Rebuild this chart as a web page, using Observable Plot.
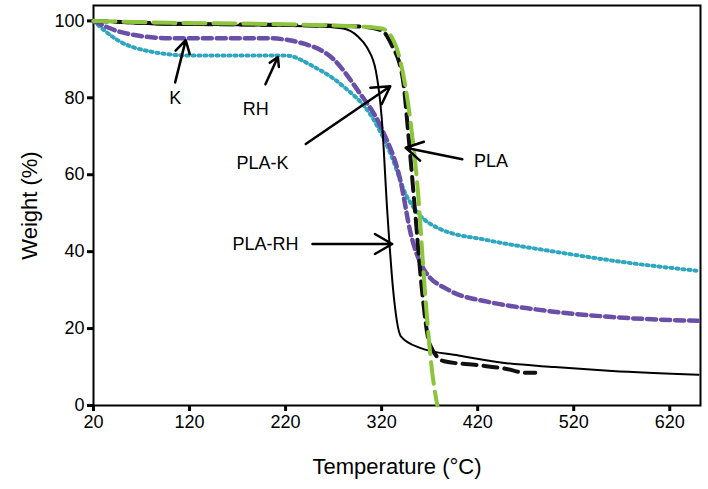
<!DOCTYPE html>
<html><head><meta charset="utf-8">
<script src="https://cdn.jsdelivr.net/npm/d3@7"></script>
<script src="https://cdn.jsdelivr.net/npm/@observablehq/plot@0.6"></script>
<style>body{margin:0;background:#fff}</style>
</head><body><div id="chart"></div>
<script>
const plaT = [20,100,200,300,320,330,340,350,358,365,372,378];
const plaW = [100,99.5,99.2,98.5,98,96,89,74,55,30,10,0];
const plakT = [20,100,200,300,320,330,342,348,355,362,370,385,420,450,470,480];
const plakW = [100,99.3,99,98.5,97.5,94,85,70,50,30,16,11.5,10.5,9.5,8.5,8.5];
const plarhT = [20,100,200,260,280,295,305,314,320,326,332,340,360,400,450,500,560,650];
const plarhW = [100,99,98.8,98.5,98,96,93,87,75,50,30,18,15,13,11,10,9,8];
const kT = [20,50,100,200,240,270,295,320,340,350,365,390,430,480,560,650];
const kW = [100,97,95.5,95.5,94,90,82,72,58,45,35,30,27,25,23,22];
const rhT = [20,45,80,120,220,250,280,310,330,345,358,380,430,500,580,650];
const rhW = [100,95,92,91,91,88,83,75,65,55,50,46,43,40,37,35];

const labels = ["K","RH","PLA-K","PLA","PLA-RH"];
const labelT = [105,189,196,434,199];
const labelW = [80,77,63,63.5,42];
const arrX1 = [105,199,241,404,248];
const arrY1 = [84,83.5,68,64,42];
const arrX2 = [116,212,329,345,331];
const arrY2 = [95,90.6,83,67,42];

const toRows = (t, w) => t.map((x, i) => ({t: x, w: w[i]}));
const lbl = labels.map((s, i) => ({s, t: labelT[i], w: labelW[i]}));
const arr = labels.map((s, i) => ({x1: arrX1[i], y1: arrY1[i], x2: arrX2[i], y2: arrY2[i]}));

const chart = Plot.plot({
  width: 708, height: 489,
  marginLeft: 93, marginRight: 8, marginTop: 5, marginBottom: 84,
  style: {fontFamily: "Liberation Sans, Arial, sans-serif", color: "#000"},
  x: {domain: [20, 652]},
  y: {domain: [0, 104]},
  marks: [
    Plot.axisX({ticks: [20,120,220,320,420,520,620], tickSize: 6, tickPadding: 4, fontSize: 18, strokeWidth: 3,
      label: "Temperature (°C)", labelAnchor: "center", labelOffset: 68, labelArrow: "none"}),
    Plot.axisY({ticks: [0,20,40,60,80,100], tickSize: 6, tickPadding: 3, fontSize: 18, strokeWidth: 3,
      label: "Weight (%)", labelAnchor: "center", labelOffset: 72, labelArrow: "none"}),
    Plot.frame({stroke: "#000", strokeWidth: 2}),
    Plot.line(toRows(rhT, rhW), {x: "t", y: "w", curve: "monotone-x", stroke: "#2fa6c0", strokeWidth: 4, strokeDasharray: "2,4", strokeLinecap: "round"}),
    Plot.line(toRows(kT, kW), {x: "t", y: "w", curve: "monotone-x", stroke: "#6a4fa8", strokeWidth: 4.5, strokeDasharray: "9,5"}),
    Plot.line(toRows(plarhT, plarhW), {x: "t", y: "w", curve: "monotone-x", stroke: "#000", strokeWidth: 2}),
    Plot.line(toRows(plakT, plakW), {x: "t", y: "w", curve: "monotone-x", stroke: "#111", strokeWidth: 4, strokeDasharray: "14,7"}),
    Plot.line(toRows(plaT, plaW), {x: "t", y: "w", curve: "monotone-x", stroke: "#8cc43c", strokeWidth: 4, strokeDasharray: "22,8"}),
    Plot.arrow(arr, {x1: "x1", y1: "y1", x2: "x2", y2: "y2", stroke: "#000", strokeWidth: 2.5, headLength: 12}),
    Plot.text(lbl, {x: "t", y: "w", text: "s", fontSize: 18, fill: "#000"})
  ]
});
chart.querySelectorAll('g[aria-label="x-axis label"] text, g[aria-label="y-axis label"] text').forEach(e => e.setAttribute("font-size", 22));
document.getElementById("chart").append(chart);
</script></body></html>
